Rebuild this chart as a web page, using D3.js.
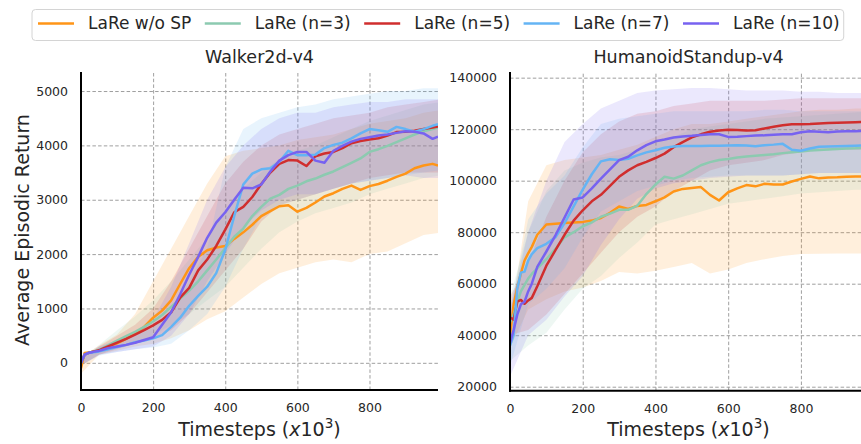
<!DOCTYPE html>
<html>
<head>
<meta charset="utf-8">
<title>LaRe learning curves</title>
<script src="https://d3js.org/d3.v7.min.js"></script>
<style>
  body { margin: 0; background: #fff; }
  svg text { font-family: "DejaVu Sans", sans-serif; fill: #262626; }
</style>
</head>
<body>
<svg id="chart" width="861" height="444"></svg>
<script>

// ---- data ----
var names = ["LaRe w/o SP", "LaRe (n=3)", "LaRe (n=5)", "LaRe (n=7)", "LaRe (n=10)"];
var colors = ["#ff9517", "#8ccab0", "#d02e2e", "#64b4f4", "#7762f0"];

var xTicks = [0, 200, 400, 600, 800];
var walkerTicks = [0, 1000, 2000, 3000, 4000, 5000];
var humanoidTicks = [20000, 40000, 60000, 80000, 100000, 120000, 140000];

// timesteps (x10^3) for the mean curves
var steps = [0,10,20,30,40,50,60,75,100,125,150,175,200,225,250,275,300,325,350,375,400,425,450,475,500,525,550,575,600,625,650,675,700,725,750,775,800,825,850,875,900,925,950,975,990];
// timesteps for the shaded bands
var bandSteps = [0,50,100,150,200,250,300,350,400,450,500,550,600,650,700,750,800,850,900,950,1000];

// Walker2d-v4 means
var walkerWoSP = [-100,180,190,200,215,230,255,290,360,440,540,660,830,960,1150,1450,1740,1950,2070,2120,2150,2280,2400,2540,2700,2790,2880,2900,2780,2850,2950,3060,3120,3200,3260,3180,3250,3290,3350,3420,3480,3580,3630,3660,3630];
var walkerN3 = [0,150,180,200,220,240,270,320,410,490,570,660,760,880,1030,1180,1330,1500,1700,1900,2110,2320,2470,2700,2870,3020,3090,3200,3260,3340,3390,3460,3520,3600,3680,3760,3880,3930,3990,4060,4130,4200,4260,4300,4330];
var walkerN5 = [0,150,180,200,215,230,260,300,370,440,520,600,690,790,930,1200,1380,1700,1900,2150,2450,2770,2870,3050,3290,3500,3660,3730,3720,3620,3800,3850,3880,3950,4040,4080,4110,4130,4180,4245,4250,4270,4300,4330,4350];
var walkerN7 = [0,150,180,190,200,210,225,250,290,330,380,410,450,510,660,830,1050,1230,1400,1650,2080,2700,3280,3480,3560,3580,3700,3900,3820,3820,3830,3950,4010,4050,4130,4220,4300,4280,4250,4340,4300,4250,4300,4360,4390];
var walkerN10 = [0,150,180,195,210,220,240,270,300,330,370,420,470,700,930,1260,1620,1950,2300,2580,2770,3000,3220,3210,3280,3520,3720,3820,3880,3880,3720,3680,3900,3990,4070,4120,4150,4180,4200,4230,4260,4250,4220,4120,4160];

// Walker2d-v4 bands
var walkerWoSPLo = [-200,150,220,300,350,450,600,800,950,1200,1450,1650,1750,1850,1900,1850,2000,2050,2200,2350,2400];
var walkerWoSPHi = [100,320,520,900,1500,2100,2700,3300,3800,3900,3950,4000,4100,4150,4200,4300,4400,4450,4500,4600,4650];
var walkerN3Lo = [-50,150,280,380,500,700,900,1150,1400,1750,2100,2400,2600,2750,2850,2950,3100,3200,3300,3400,3450];
var walkerN3Hi = [80,330,600,850,1150,1500,1900,2300,2800,3200,3500,3750,3900,4000,4150,4300,4450,4550,4650,4750,4800];
var walkerN5Lo = [-50,150,250,350,450,600,900,1300,1700,2100,2600,2900,3000,3100,3200,3300,3400,3450,3500,3500,3500];
var walkerN5Hi = [80,300,500,700,1000,1500,2100,2700,3300,3700,4000,4200,4300,4400,4500,4550,4600,4700,4750,4800,4850];
var walkerN7Lo = [-50,130,200,250,280,350,600,900,1400,2100,2700,2900,3000,3100,3200,3300,3350,3400,3450,3500,3550];
var walkerN7Hi = [80,280,400,500,650,950,1500,2100,3600,4300,4500,4600,4700,4750,4850,4900,4950,5000,5000,5050,5050];
var walkerN10Lo = [-50,150,200,250,300,500,900,1500,2000,2500,2800,3000,3100,3100,3200,3300,3350,3400,3450,3400,3400];
var walkerN10Hi = [80,300,420,550,800,1400,2200,3000,3600,4000,4300,4500,4600,4600,4700,4750,4800,4800,4850,4850,4850];

// HumanoidStandup-v4 means
var humWoSP = [40000,52000,58500,64000,69000,71800,74300,79000,83000,83300,83600,83800,84000,84500,85500,87500,90000,89000,90200,90600,92000,93500,95800,96800,97200,97500,94500,92300,95500,97000,98300,97800,98800,98500,98500,99700,100700,101600,100900,101200,101300,101500,101600,101700,101800];
var humN3 = [45000,48000,53000,57000,59500,62000,63800,66000,69500,73500,78000,80000,82300,83800,86000,87200,88700,88700,90300,94800,98500,101500,100800,102000,104000,106000,107200,108000,108400,109000,109400,109700,110000,110300,110700,111000,111300,111700,111900,112100,112300,112500,112600,112800,113000];
var humN5 = [47000,46000,53000,53700,52200,53500,54500,59000,67000,73000,79000,84500,88500,92000,94500,98000,101500,104000,106000,107300,108800,110500,113000,115000,116800,118000,119000,119500,119800,119700,119500,119600,120300,120900,121500,121900,121900,122000,122200,122400,122500,122600,122700,122800,122800];
var humN7 = [36000,40000,58000,64300,64700,69000,71500,73800,75500,78000,83500,90000,96500,102500,107500,108300,108000,108500,109800,111000,111800,112800,113300,113500,113500,113500,113600,113600,113700,113800,113700,113400,113800,114000,114300,112000,111600,112500,113200,113300,113400,113500,113600,113700,113800];
var humN10 = [37000,42000,48000,52000,53000,57000,60000,66500,72500,78800,85700,92700,93500,97000,100800,104400,108000,109300,111800,113800,115300,116000,116800,117200,117400,117700,118000,118000,117000,117100,117300,117500,117600,117800,118000,118000,118800,119200,119000,118800,119100,119200,119200,119300,119400];

// HumanoidStandup-v4 bands
var humWoSPLo = [35000,50000,54000,57000,58500,61000,64500,64000,65000,66500,68000,64000,65500,68000,69500,70800,71500,71600,71700,71700,71700];
var humWoSPHi = [45000,92000,106000,108000,109000,110000,112000,114000,117000,120000,122000,122000,123000,124000,125000,126000,127000,127500,127500,128000,128000];
var humN3Lo = [30000,36000,41000,50000,58000,63000,70000,76000,83000,85000,87000,89000,91000,92000,93000,94000,95000,95500,96000,96500,96500];
var humN3Hi = [55000,80000,96000,104000,107000,109000,110000,112000,115000,117000,120000,121000,122000,123000,124000,124500,125000,125500,126000,126500,127000];
var humN5Lo = [40000,42000,48000,56000,64000,72000,80000,86000,90000,96000,100000,104000,106000,107000,108000,110000,111000,112000,112000,112000,112000];
var humN5Hi = [55000,68000,86000,100000,111000,118000,123000,126000,127000,129000,130000,131000,131000,131000,131000,131500,132000,132000,132000,132000,132000];
var humN7Lo = [28000,52000,58000,66000,78000,88000,92000,96000,98000,100000,101000,101500,102000,102000,102000,102000,102500,103000,103000,103000,103000];
var humN7Hi = [50000,85000,95000,102000,113000,122000,124000,125000,126000,127000,127000,127000,127000,127000,127500,127500,127000,127000,127000,127000,127000];
var humN10Lo = [24000,40000,46000,55000,63000,75000,85000,93000,97000,99000,100000,101000,101500,102000,102000,102000,102500,103000,103000,103000,103000];
var humN10Hi = [50000,80000,100000,115000,122000,128000,131000,134000,135000,135500,136000,136000,135500,135000,135000,135000,134500,134500,134000,134000,134000];

// ---- layout ----
var panels = [
  { title: "Walker2d-v4", x0: 81, x1: 438, y0: 390, y1: 72,
    yDomain: [-500, 5350], yTicks: walkerTicks,
    means: [walkerWoSP, walkerN3, walkerN5, walkerN7, walkerN10],
    lows: [walkerWoSPLo, walkerN3Lo, walkerN5Lo, walkerN7Lo, walkerN10Lo],
    highs: [walkerWoSPHi, walkerN3Hi, walkerN5Hi, walkerN7Hi, walkerN10Hi] },
  { title: "HumanoidStandup-v4", x0: 510, x1: 870, y0: 390.7, y1: 72,
    yDomain: [18450, 142200], yTicks: humanoidTicks,
    means: [humWoSP, humN3, humN5, humN7, humN10],
    lows: [humWoSPLo, humN3Lo, humN5Lo, humN7Lo, humN10Lo],
    highs: [humWoSPHi, humN3Hi, humN5Hi, humN7Hi, humN10Hi] }
];

var svg = d3.select("#chart");
var defs = svg.append("defs");

panels.forEach(function(p, k) {
  var x = d3.scaleLinear().domain([0, 990]).range([p.x0, p.x1]);
  var y = d3.scaleLinear().domain(p.yDomain).range([p.y0, p.y1]);
  var g = svg.append("g");

  defs.append("clipPath").attr("id", "clip" + k)
    .append("rect")
      .attr("x", p.x0).attr("y", p.y1)
      .attr("width", p.x1 - p.x0).attr("height", p.y0 - p.y1);

  // y grid + labels
  var ya = g.append("g")
    .attr("transform", "translate(" + p.x0 + ",0)")
    .call(d3.axisLeft(y).tickValues(p.yTicks).tickSize(-(p.x1 - p.x0))
      .tickPadding(13).tickFormat(d3.format("d")));
  // x grid + labels
  var xa = g.append("g")
    .attr("transform", "translate(0," + p.y0 + ")")
    .call(d3.axisBottom(x).tickValues(xTicks).tickSize(-(p.y0 - p.y1))
      .tickPadding(13).tickFormat(d3.format("d")));

  [ya, xa].forEach(function(a) {
    a.attr("font-family", null).attr("font-size", null);
    a.select(".domain").remove();
    a.selectAll(".tick line")
      .attr("stroke", "#949494")
      .attr("stroke-width", 0.9)
      .attr("stroke-dasharray", "3.5,2.2");
    a.selectAll(".tick text").style("font-size", "12.5px");
  });

  var plot = g.append("g").attr("clip-path", "url(#clip" + k + ")");

  // shaded bands
  p.means.forEach(function(m, i) {
    var area = d3.area()
      .x(function(d, j) { return x(bandSteps[j]); })
      .y0(function(d, j) { return y(p.lows[i][j]); })
      .y1(function(d, j) { return y(p.highs[i][j]); });
    plot.append("path")
      .datum(bandSteps)
      .attr("d", area)
      .attr("fill", colors[i])
      .attr("fill-opacity", 0.15);
  });

  // mean curves
  p.means.forEach(function(m, i) {
    var line = d3.line()
      .x(function(d, j) { return x(steps[j]); })
      .y(function(d) { return y(d); });
    plot.append("path")
      .datum(m)
      .attr("d", line)
      .attr("fill", "none")
      .attr("stroke", colors[i])
      .attr("stroke-width", 2.5)
      .attr("stroke-linejoin", "round");
  });

  // spines
  g.append("line")
    .attr("x1", p.x0).attr("x2", p.x0)
    .attr("y1", p.y1).attr("y2", p.y0 + 1)
    .attr("stroke", "#000").attr("stroke-width", 2);
  g.append("line")
    .attr("x1", p.x0 - 1).attr("x2", p.x1)
    .attr("y1", p.y0).attr("y2", p.y0)
    .attr("stroke", "#000").attr("stroke-width", 2);

  // title
  g.append("text")
    .attr("x", p.x0 + 178.5).attr("y", 63)
    .attr("text-anchor", "middle")
    .style("font-size", "17.5px")
    .text(p.title);

  // x label
  var xl = g.append("text")
    .attr("x", p.x0 + 178.5).attr("y", 436)
    .attr("text-anchor", "middle")
    .style("font-size", "19px");
  xl.append("tspan").text("Timesteps (");
  xl.append("tspan").style("font-style", "italic").text("x");
  xl.append("tspan").text("10");
  xl.append("tspan").attr("dy", -8).style("font-size", "13.5px").text("3");
  xl.append("tspan").attr("dy", 8).text(")");
});

// y label
svg.append("text")
  .attr("transform", "translate(29,230) rotate(-90)")
  .attr("text-anchor", "middle")
  .style("font-size", "19px")
  .text("Average Episodic Return");

// legend
var legend = svg.append("g");
var box = legend.append("rect")
  .attr("x", 32).attr("y", 9.5).attr("height", 31).attr("rx", 3.5)
  .attr("fill", "#fff").attr("fill-opacity", 0.9)
  .attr("stroke", "#d4d4d4").attr("stroke-width", 1);
var lx = 38, ly = 23.5;
names.forEach(function(n, i) {
  legend.append("line")
    .attr("x1", lx).attr("x2", lx + 36)
    .attr("y1", ly).attr("y2", ly)
    .attr("stroke", colors[i]).attr("stroke-width", 2.5);
  var t = legend.append("text")
    .attr("x", lx + 50).attr("y", ly).attr("dy", "0.35em")
    .style("font-size", "17px")
    .text(n);
  lx = lx + 50 + t.node().getComputedTextLength() + 13.5;
});
box.attr("width", lx - 13.5 + 4 - 32);

</script>
</body>
</html>
